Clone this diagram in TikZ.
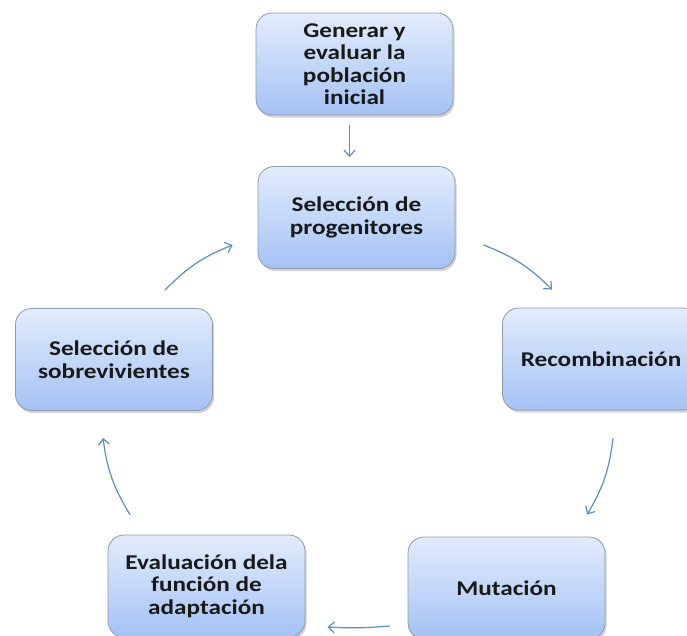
\documentclass[tikz,border=0pt]{standalone}
\usepackage{fontspec}
\newfontfamily\boxfont[FakeStretch=1.2]{Carlito}
\usetikzlibrary{arrows.meta,shadows}
\definecolor{boxtop}{HTML}{E3ECFC}
\definecolor{boxbot}{HTML}{A4C2F4}
\definecolor{boxline}{HTML}{8E9AAE}
\definecolor{arrcol}{HTML}{5B8DC8}
\begin{document}
\begin{tikzpicture}[x=1pt,y=-1pt,line join=round,line cap=round,
	etapa/.style={draw=boxline,line width=0.8pt,rounded corners=16pt,top color=boxtop,bottom color=boxbot,
		minimum width=197pt,minimum height=102pt,inner sep=2pt,align=center,text=black!90,
		font=\boxfont\bfseries\fontsize{21}{22.5}\selectfont,
		drop shadow={shadow xshift=1.5pt,shadow yshift=-2.5pt,opacity=0.35}},
	flecha/.style={draw=arrcol,line width=1.2pt,-{Straight Barb[length=6pt,width=11pt]}}]
	\useasboundingbox (0,0) rectangle (687,635);
	\node[etapa] (gen) at (354.5,64) {Generar y\\evaluar la\\población\\inicial};
	\node[etapa] (prog) at (356.5,217.5) {Selección de\\progenitores};
	\node[etapa] (rec) at (601,359) {Recombinación};
	\node[etapa] (mut) at (506.5,588) {Mutación};
	\node[etapa] (eva) at (206.5,586) {Evaluación dela\\función de\\adaptación};
	\node[etapa] (sob) at (114,359.5) {Selección de\\sobrevivientes};
	\draw[flecha,shorten <=10pt,shorten >=9pt] ([xshift=-5pt]gen.south) -- ([xshift=-7pt]prog.north);
	\draw[flecha] ([shift={(28,27.5)}]prog.east) to[bend left=12] ([shift={(-49,-18)}]rec.north);
	\draw[flecha] ([shift={(12,28)}]rec.south) to[bend left=12] ([shift={(80.5,-22)}]mut.north);
	\draw[flecha] ([shift={(-18,38)}]mut.west) to[bend left=4] ([shift={(22,41)}]eva.east);
	\draw[flecha] ([shift={(-76.5,-20)}]eva.north) to[bend left=12] ([shift={(-11,27)}]sob.south);
	\draw[flecha] ([shift={(51,-18)}]sob.north) to[bend left=12] ([shift={(-25,27.5)}]prog.west);
\end{tikzpicture}
\end{document}
